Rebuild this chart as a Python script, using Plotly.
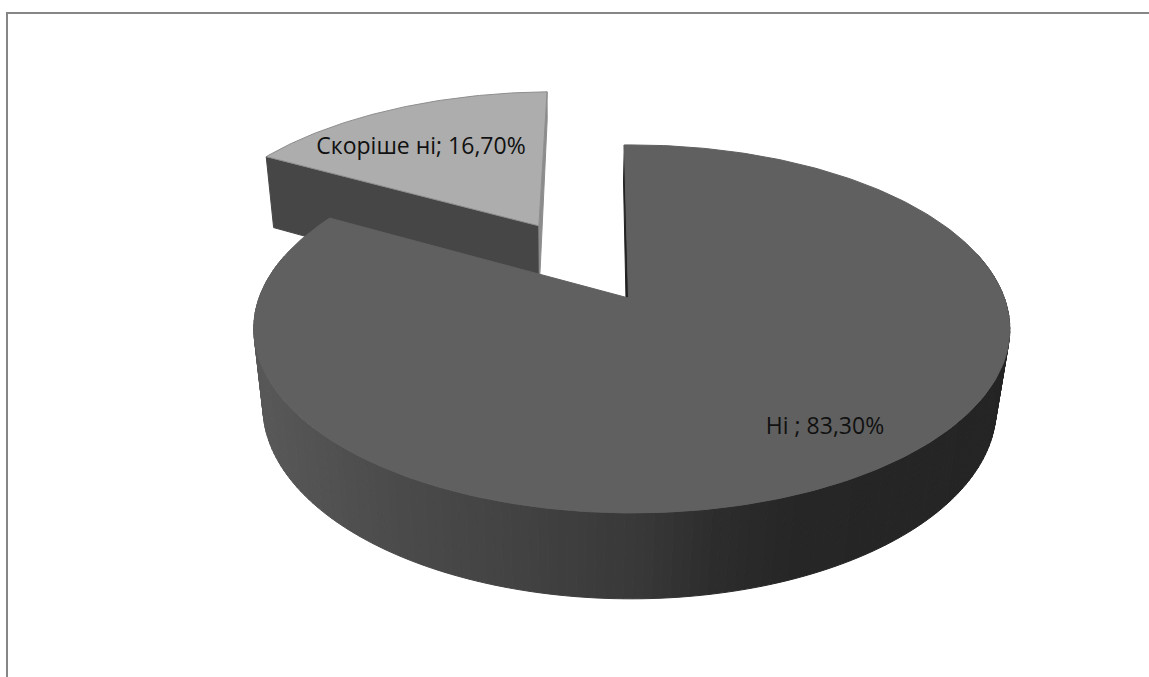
import math

import numpy as np
import plotly.graph_objects as go

# data
categories = ["Ні ", "Скоріше ні"]
values = [83.3, 16.7]

# projection of the pie disc to the picture (perspective, pixels)
CX, CY = 628.5, 298
R, S = 372.6, 178.8
K, M = 0.168, -0.0086
DEPTH, DEPTH_X, DEPTH_W = 80.5, -2.0, 0.03
EXPLODE = 0.505
START_ANGLE = math.radians(-0.75)

WALL_X = [255, 400, 520, 640, 720, 800, 1010]
WALL_GREY = [88, 74, 66, 56, 44, 38, 36]


def project(u, v, z=0.0):
    w = 1 + K * v + M * u + DEPTH_W * z
    x = CX + (R * u + DEPTH_X * z) / w
    y = CY - (S * v - DEPTH * z) / w
    return x, y


def grey(g):
    return f"rgb({g},{g},{g})"


def polygon(points, fill, line=None, width=1):
    xs = [p[0] for p in points] + [points[0][0]]
    ys = [p[1] for p in points] + [points[0][1]]
    return go.Scatter(x=xs, y=ys, mode="lines", fill="toself", fillcolor=fill,
                      line=dict(color=line or fill, width=width),
                      hoverinfo="skip", showlegend=False)


def at(a, du=0.0, dv=0.0, z=0.0):
    return project(du + math.sin(a), dv + math.cos(a), z)


total = sum(values)
big_start = START_ANGLE
big_end = START_ANGLE + 2 * math.pi * values[0] / total
small_end = big_start + 2 * math.pi
mid = (big_end + small_end) / 2
du, dv = EXPLODE * math.sin(mid), EXPLODE * math.cos(mid)

fig = go.Figure()

# exploded slice: outer side of the cut, then the other cut, then top
fig.add_trace(polygon([project(du, dv), at(big_end, du, dv), at(big_end, du, dv, 1), project(du, dv, 1)],
                      "#464646"))
fig.add_trace(polygon([project(du, dv), at(small_end, du, dv), at(small_end, du, dv, 0.4), project(du, dv, 0.8)],
                      "#8c8c8c"))
small_rim = [at(a, du, dv) for a in np.linspace(big_end, small_end, 80)]
fig.add_trace(polygon([project(du, dv)] + small_rim, "#adadad", "#8e8e8e"))

# main slice: cut face, side wall in strips, top
fig.add_trace(polygon([project(0, 0), at(big_start), at(big_start, z=0.5), project(0, 0, 0.7)], "#222222"))
steps = np.linspace(big_start, big_end, 241)
for a0, a1 in zip(steps[:-1], steps[1:]):
    if math.cos((a0 + a1) / 2) > 0.25:
        continue
    quad = [at(a0), at(a1), at(a1, z=1), at(a0, z=1)]
    g = int(round(np.interp((quad[0][0] + quad[1][0]) / 2, WALL_X, WALL_GREY)))
    fig.add_trace(polygon(quad, grey(g)))
big_rim = [at(a) for a in np.linspace(big_start, big_end, 300)]
fig.add_trace(polygon([project(0, 0)] + big_rim, "#606060"))

# labels
label_pos = [(825, 428), (421, 148)]
labels = [f"{c}; {v:.2f}%".replace(".", ",") for c, v in zip(categories, values)]
fig.add_trace(go.Scatter(x=[p[0] for p in label_pos], y=[p[1] for p in label_pos], text=labels,
                         mode="text", textposition="middle center",
                         textfont=dict(family="Open Sans", size=23, color="#111111"),
                         hoverinfo="skip", showlegend=False))

fig.update_layout(width=1149, height=677, margin=dict(l=8, r=0, t=14, b=0),
                  paper_bgcolor="white", plot_bgcolor="white", showlegend=False)
fig.update_xaxes(range=[8, 1149], side="top", showline=True, linecolor="#868686", linewidth=2,
                 showgrid=False, zeroline=False, showticklabels=False, ticks="")
fig.update_yaxes(range=[677, 14], showline=True, linecolor="#868686", linewidth=2,
                 showgrid=False, zeroline=False, showticklabels=False, ticks="")

fig.write_html("out.html", config=dict(displayModeBar=False),
               post_script="document.body.style.margin='0';document.body.style.overflow='hidden';")
